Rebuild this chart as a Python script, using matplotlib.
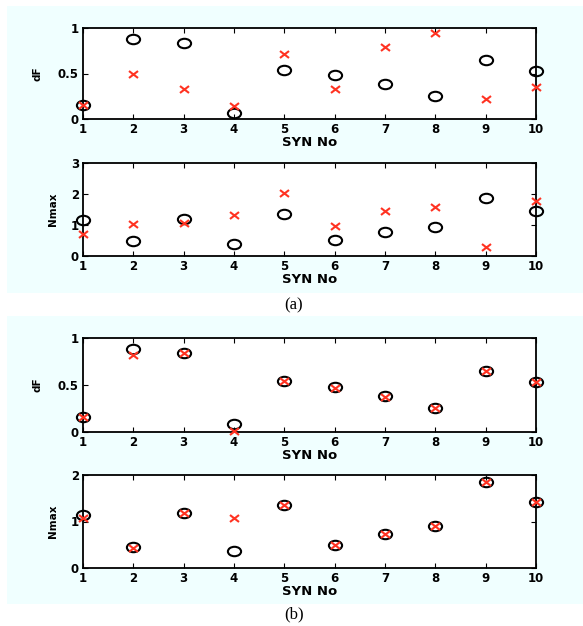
import matplotlib
matplotlib.use("Agg")
import matplotlib.pyplot as plt
from matplotlib.patches import Rectangle
from matplotlib.path import Path
from matplotlib.transforms import Affine2D

syn = [1, 2, 3, 4, 5, 6, 7, 8, 9, 10]

# (a)
a_df_circ = [0.15, 0.88, 0.83, 0.07, 0.54, 0.48, 0.38, 0.25, 0.65, 0.53]
a_df_x = [0.15, 0.50, 0.33, 0.14, 0.71, 0.33, 0.79, 0.94, 0.22, 0.35]
a_n_circ = [1.15, 0.47, 1.19, 0.38, 1.36, 0.51, 0.76, 0.93, 1.86, 1.44]
a_n_x = [0.72, 1.02, 1.08, 1.33, 2.03, 0.97, 1.46, 1.57, 0.29, 1.76]

# (b)
b_df_circ = [0.16, 0.88, 0.84, 0.08, 0.54, 0.48, 0.38, 0.26, 0.65, 0.53]
b_df_x = [0.16, 0.82, 0.84, 0.01, 0.54, 0.47, 0.37, 0.26, 0.65, 0.53]
b_n_circ = [1.15, 0.46, 1.18, 0.37, 1.35, 0.50, 0.74, 0.91, 1.85, 1.42]
b_n_x = [1.07, 0.42, 1.18, 1.07, 1.35, 0.50, 0.74, 0.91, 1.85, 1.42]

W, H = 583, 626
plt.rcParams['font.family'] = ['DejaVu Sans']
fig = plt.figure(figsize=(W / 100, H / 100), dpi=100)

BG = '#F0FFFF'
RED = '#FF3322'

# slightly wide marker shapes (the reference is horizontally stretched)
ELLIPSE = Path.unit_circle().transformed(Affine2D().scale(1.4, 1.0))
XMARK = Path([(-1.3, -1), (1.3, 1), (-1.3, 1), (1.3, -1)],
             [Path.MOVETO, Path.LINETO, Path.MOVETO, Path.LINETO])


def px_rect(x0, y0, x1, y1):
    return [x0 / W, 1 - y1 / H, (x1 - x0) / W, (y1 - y0) / H]


# background panels
for (y0, y1) in [(6, 293), (316, 604)]:
    fig.patches.append(Rectangle((7 / W, 1 - y1 / H), (W - 7) / W, (y1 - y0) / H,
                                 transform=fig.transFigure, facecolor=BG,
                                 edgecolor='none', zorder=-10))


def make_ax(y0, y1, circ, cross, ylim, yticks, yticklabels, ylabel, lpad):
    ax = fig.add_axes(px_rect(83, y0, 536, y1))
    ax.set_zorder(5)
    ax.set_facecolor('white')
    ax.plot(syn, circ, linestyle='none', marker=ELLIPSE, mfc='none', mec='black',
            ms=9.5, mew=1.5, clip_on=False, zorder=3)
    ax.plot(syn, cross, linestyle='none', marker=XMARK, mfc='none', mec=RED,
            ms=6.5, mew=1.5, clip_on=False, zorder=4)
    ax.set_xlim(1, 10)
    ax.set_ylim(*ylim)
    ax.set_xticks(syn)
    ax.set_yticks(yticks)
    ax.set_yticklabels(yticklabels)
    ax.tick_params(direction='in', length=3.5, width=0.8, top=True, right=True,
                   labelsize=8.5, pad=3)
    for lab in ax.get_xticklabels() + ax.get_yticklabels():
        lab.set_fontweight('bold')
    ax.set_xlabel('SYN No', fontsize=9.5, fontweight='bold', labelpad=0)
    ax.set_ylabel(ylabel, fontsize=7.5, fontweight='bold', labelpad=lpad)
    for s in ax.spines.values():
        s.set_linewidth(1.3)
    return ax


make_ax(28, 119, a_df_circ, a_df_x, (0, 1), [0, 0.5, 1], ['0', '0.5', '1'], 'dF', 11)
make_ax(163, 256, a_n_circ, a_n_x, (0, 3), [0, 1, 2, 3], ['0', '1', '2', '3'], 'Nmax', 9)
make_ax(338, 432, b_df_circ, b_df_x, (0, 1), [0, 0.5, 1], ['0', '0.5', '1'], 'dF', 11)
make_ax(475, 568, b_n_circ, b_n_x, (0, 2), [0, 1, 2], ['0', '1', '2'], 'Nmax', 9)

fig.text(294 / W, 1 - 305 / H, '(a)', ha='center', va='center', fontsize=12,
         family='Liberation Serif')
fig.text(294 / W, 1 - 614 / H, '(b)', ha='center', va='center', fontsize=12,
         family='Liberation Serif')

fig.savefig('out.png', dpi=100)
